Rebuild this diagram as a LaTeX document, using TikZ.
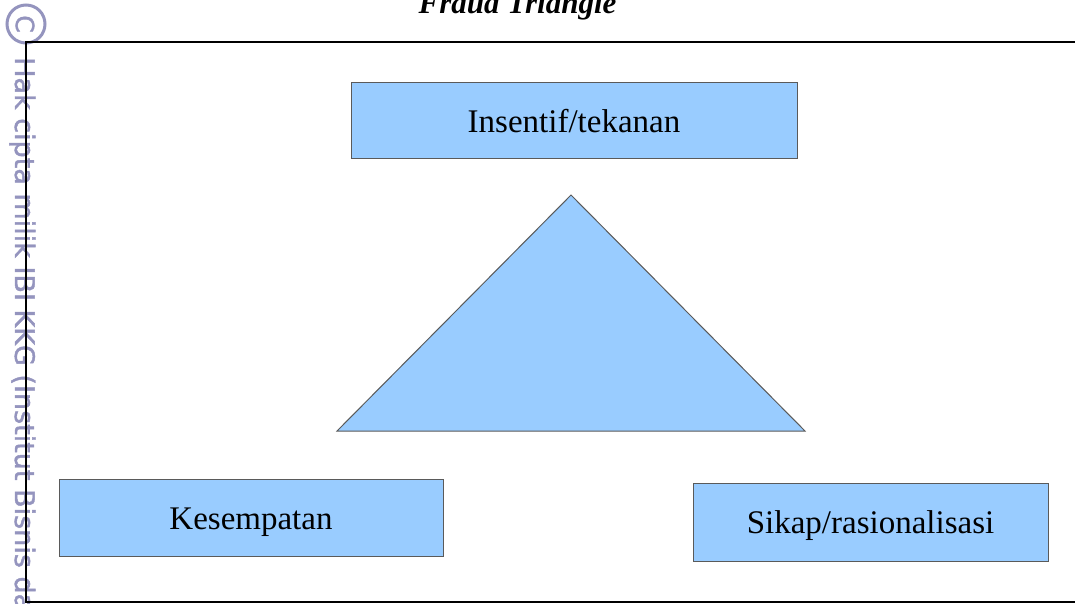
\documentclass[tikz,border=0pt]{standalone}
\usepackage{fontspec}
\setmainfont{Liberation Serif}
\newfontfamily\wmfont[FakeBold=1.5]{DejaVu Sans}
\definecolor{boxblue}{RGB}{153,204,255}
\definecolor{boxline}{RGB}{90,90,90}
\definecolor{wmgray}{RGB}{148,148,190}
\begin{document}
\begin{tikzpicture}[
 x=1pt, y=-1pt,
 inner sep=0pt,
 box/.style={draw=boxline,fill=boxblue,rectangle,line width=1pt,text height=23pt,text depth=0pt,font=\fontsize{33}{40}\selectfont},
 tri/.style={draw=boxline,fill=boxblue,line width=1pt,line join=miter},
 frame/.style={draw=black,line width=2.6pt},
 watermark/.style={text=wmgray,font=\wmfont\fontsize{27}{32}\selectfont,rotate=-90}
]
\useasboundingbox (0,0) rectangle (1075,604);
% watermark on the left margin
\draw [wmgray, line width=3pt] (26,24) circle (19);
\node (copy-c) [watermark, font=\wmfont\fontsize{25}{30}\selectfont] at (25,24) {C};
\node (copy-text) [watermark, anchor=base west] at (15,57) {Hak cipta milik IBI KKG (Institut Bisnis da};
% frame and title
\draw [frame] (1075,42) -- (26,42) -- (26,602) -- (1075,602);
\node (title) [anchor=base, font=\bfseries\itshape\fontsize{31}{36}\selectfont] at (517.5,14) {Fraud Triangle};
% triangle and the three corners
\filldraw [tri] (571,195) -- (805,431) -- (337,431) -- cycle;
\node (insentif-box) [box, minimum width=446pt, minimum height=76pt] at (574,121) {Insentif/tekanan};
\node (kesempatan-box) [box, minimum width=384pt, minimum height=77pt] at (251,517.5) {Kesempatan};
\node (sikap-box) [box, minimum width=355pt, minimum height=78pt] at (870.5,522) {Sikap/rasionalisasi};
\end{tikzpicture}
\end{document}
